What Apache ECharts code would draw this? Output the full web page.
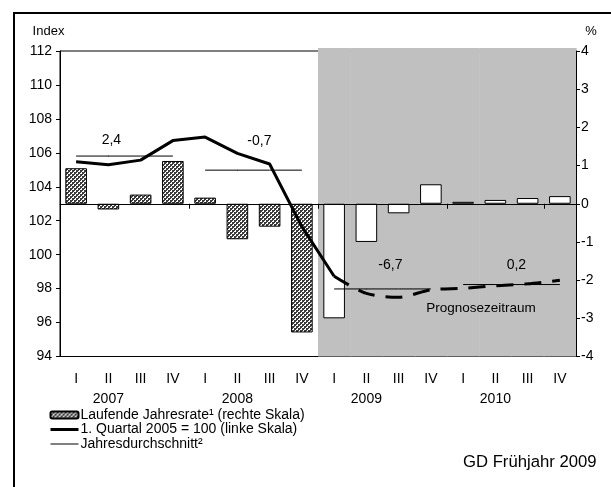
<!DOCTYPE html>
<html>
<head>
<meta charset="utf-8">
<script src="https://cdn.jsdelivr.net/npm/echarts@6/dist/echarts.min.js"></script>
<style>
  html, body { margin: 0; padding: 0; background: #fff; }
  #chart { width: 611px; height: 487px; }
</style>
</head>
<body>
<div id="chart"></div>
<script>
// quarters 2007 I .. 2010 IV
const quarters = ['I', 'II', 'III', 'IV', 'I', 'II', 'III', 'IV', 'I', 'II', 'III', 'IV', 'I', 'II', 'III', 'IV'];
const years = ['2007', '2008', '2009', '2010'];
// Laufende Jahresrate, % (right scale)
const rateValues = [0.93, -0.15, 0.24, 1.12, 0.16, -0.93, -0.6, -3.37, -3.0, -1.0, -0.25, 0.51, 0.05, 0.1, 0.15, 0.2];
// index, 1. Quartal 2005 = 100 (left scale)
const indexActual = [105.47, 105.3, 105.57, 106.72, 106.93, 105.97, 105.34, 101.65, 98.73, null, null, null, null, null, null, null];
const indexForecast = [null, null, null, null, null, null, null, null, 98.73, 97.72, 97.49, 97.93, 98.02, 98.17, 98.28, 98.49];
// Jahresdurchschnitt per year (left scale) and annual rate labels
const avgValues = [105.81, 104.98, 97.98, 98.24];
const avgLabels = ['2,4', '-0,7', '-6,7', '0,2'];
const forecastStart = 8;

const FONT = 'Liberation Sans, Arial, sans-serif';

// dotted fill of the bars
function makePattern() {
  const c = document.createElement('canvas');
  c.width = 4; c.height = 4;
  const g = c.getContext('2d');
  g.fillStyle = '#3c3c3c';
  g.fillRect(0, 0, 4, 4);
  g.fillStyle = '#ffffff';
  [[1, 1], [1, 0], [0, 1], [3, 3], [2, 3], [3, 2]].forEach(p => g.fillRect(p[0], p[1], 1, 1));
  return c;
}
const pattern = { image: makePattern(), repeat: 'repeat' };

const chart = echarts.init(document.getElementById('chart'), null, { renderer: 'canvas' });

const labelOffsets = [[3, -3], [22, -17], [24, -11], [21, -7]];

const avgSeries = avgValues.map((v, y) => ({
  name: 'Jahresdurchschnitt²',
  type: 'line',
  yAxisIndex: 0,
  symbol: 'none',
  silent: true,
  z: 4,
  lineStyle: { color: '#000', width: 1 },
  itemStyle: { color: '#000' },
  data: quarters.map((q, i) => {
    if (Math.floor(i / 4) !== y) return null;
    if (i % 4 === 1) {
      return {
        value: v,
        symbol: 'circle',
        symbolSize: 1,
        label: {
          show: true,
          position: 'top',
          formatter: avgLabels[y],
          offset: labelOffsets[y],
          color: '#000',
          fontFamily: FONT,
          fontSize: 14
        }
      };
    }
    return v;
  })
}));

// forecast period shading, one band per forecast quarter
const forecastBands = quarters.map((q, i) => i).filter(i => i >= forecastStart);

chart.setOption({
  animation: false,
  textStyle: { fontFamily: FONT, color: '#000' },
  grid: {
    left: 60, right: 35, top: 51, bottom: 130.5,
    show: true, borderColor: '#000', borderWidth: 1, backgroundColor: 'transparent'
  },
  legend: {
    orient: 'vertical',
    left: 49,
    top: 408,
    padding: 0,
    itemWidth: 28,
    itemHeight: 7,
    itemGap: 0.5,
    textStyle: { fontFamily: FONT, fontSize: 14, color: '#000', lineHeight: 14, padding: [0, 0, 0, -3] },
    data: [
      { name: 'Laufende Jahresrate¹ (rechte Skala)' },
      { name: '1. Quartal 2005 = 100 (linke Skala)', itemStyle: { opacity: 0 }, lineStyle: { width: 3, color: '#000' } },
      { name: 'Jahresdurchschnitt²', itemStyle: { opacity: 0 }, lineStyle: { width: 1, color: '#000' } }
    ],
    selectedMode: false
  },
  xAxis: {
    type: 'category',
    data: quarters,
    boundaryGap: true,
    z: 3,
    axisLine: { lineStyle: { color: '#000', width: 1 } },
    axisTick: { show: true, interval: 3, length: 5, lineStyle: { color: '#000' } },
    axisLabel: {
      interval: 0,
      margin: 13,
      fontSize: 14,
      color: '#000',
      lineHeight: 20,
      fontFamily: FONT,
      formatter: (v, i) => (i % 4 === 1 ? v + '\n' + years[Math.floor(i / 4)] : v)
    },
    splitLine: { show: false }
  },
  yAxis: [
    {
      type: 'value',
      min: 94, max: 112, interval: 2,
      name: 'Index',
      nameLocation: 'end',
      nameGap: 13,
      nameTextStyle: { fontFamily: FONT, fontSize: 13, color: '#000', align: 'center', padding: [0, 23, 0, 0] },
      axisLine: { show: true, lineStyle: { color: '#000' } },
      axisTick: { show: true, length: 4, lineStyle: { color: '#000' } },
      axisLabel: { margin: 8, fontSize: 14, color: '#000', fontFamily: FONT },
      splitLine: { show: false }
    },
    {
      type: 'value',
      min: -4, max: 4, interval: 1,
      position: 'right',
      z: 3,
      name: '%',
      nameLocation: 'end',
      nameGap: 13,
      nameTextStyle: { fontFamily: FONT, fontSize: 13, color: '#000', align: 'center', padding: [0, 0, 0, 30] },
      axisLine: { show: true, lineStyle: { color: '#000' } },
      axisTick: { show: true, length: 4, lineStyle: { color: '#000' } },
      axisLabel: { margin: 5, fontSize: 14, color: '#000', fontFamily: FONT },
      splitLine: { show: false }
    }
  ],
  series: [
    {
      name: 'Prognosezeitraum',
      type: 'custom',
      silent: true,
      z: 1,
      yAxisIndex: 1,
      encode: { x: 0, y: 1 },
      data: forecastBands.map(i => [i, 0]),
      renderItem: (params, api) => {
        const x = api.coord([api.value(0), 0])[0];
        const w = api.size([1, 0])[0];
        const cs = params.coordSys;
        return {
          type: 'rect',
          shape: { x: x - w / 2, y: cs.y - 3, width: w + 0.6, height: cs.height + 3 },
          style: { fill: '#c0c0c0' }
        };
      }
    },
    {
      name: 'Laufende Jahresrate¹ (rechte Skala)',
      type: 'bar',
      yAxisIndex: 1,
      barWidth: '67%',
      z: 2,
      itemStyle: { color: pattern, borderColor: '#000', borderWidth: 1 },
      data: rateValues.map((v, i) => (i >= forecastStart
        ? { value: v, itemStyle: { color: '#fff', borderColor: '#000', borderWidth: 1 } }
        : v)),
      markLine: {
        silent: true,
        symbol: 'none',
        label: { show: false },
        lineStyle: { color: '#000', width: 1, type: 'solid' },
        data: [{ yAxis: 0 }]
      }
    },
    {
      name: '1. Quartal 2005 = 100 (linke Skala)',
      type: 'line',
      yAxisIndex: 0,
      symbol: 'none',
      z: 5,
      lineStyle: { color: '#000', width: 3 },
      itemStyle: { color: '#000' },
      data: indexActual
    },
    {
      name: 'Prognose',
      type: 'line',
      yAxisIndex: 0,
      symbol: 'none',
      smooth: 0.3,
      z: 5,
      lineStyle: { color: '#000', width: 3, type: [17, 11] },
      data: indexForecast
    },
    ...avgSeries
  ],
  graphic: [
    {
      type: 'rect',
      silent: true,
      z: 100,
      shape: { x: 14, y: 13, width: 700, height: 600 },
      style: { fill: 'none', stroke: '#000', lineWidth: 2 }
    },
    {
      type: 'text',
      silent: true,
      z: 100,
      x: 481, y: 308,
      style: { text: 'Prognosezeitraum', font: '13.5px ' + FONT, fill: '#000', align: 'center', verticalAlign: 'middle' }
    },
    {
      type: 'text',
      silent: true,
      z: 100,
      x: 463, y: 462,
      style: { text: 'GD Frühjahr 2009', font: '16.7px ' + FONT, fill: '#000', align: 'left', verticalAlign: 'middle' }
    }
  ]
});
</script>
</body>
</html>
